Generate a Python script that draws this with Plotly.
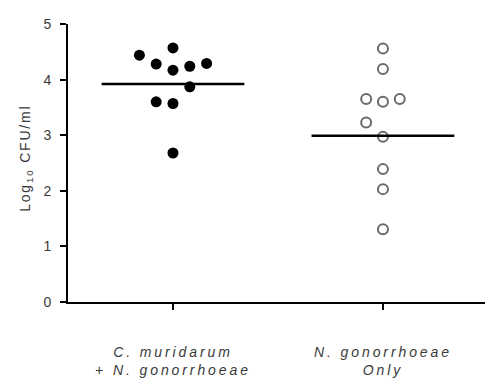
import plotly.graph_objects as go

# ---- data ----
categories = ["C. muridarum<br>+ N. gonorrhoeae", "N. gonorrhoeae<br>Only"]

co_infected = [4.44, 4.57, 4.28, 4.17, 4.24, 4.29, 3.87, 3.60, 3.57, 2.68]
co_jitter = [-0.16, 0.0, -0.08, 0.0, 0.08, 0.16, 0.08, -0.08, 0.0, 0.0]

ng_only = [4.56, 4.19, 3.65, 3.60, 3.65, 3.23, 2.97, 2.39, 2.03, 1.31]
ng_jitter = [0.0, 0.0, -0.08, 0.0, 0.08, -0.08, 0.0, 0.0, 0.0, 0.0]

group_means = [3.92, 2.99]

y_ticks = [0, 1, 2, 3, 4, 5]
y_title = "Log<sub>10</sub> CFU/ml"

# ---- figure ----
half_w = 0.34
text_col = "#3a3a3a"
font_fam = "Liberation Sans, Arial, sans-serif"

fig = go.Figure()

fig.add_trace(go.Scatter(
    x=[0 + j for j in co_jitter], y=co_infected, mode="markers",
    marker=dict(color="black", size=11, line=dict(width=0)),
    showlegend=False, hoverinfo="y"))

fig.add_trace(go.Scatter(
    x=[1 + j for j in ng_jitter], y=ng_only, mode="markers",
    marker=dict(color="white", size=10, line=dict(color="#6a6a6a", width=2)),
    showlegend=False, hoverinfo="y"))

for i, m in enumerate(group_means):
    fig.add_trace(go.Scatter(
        x=[i - half_w, i + half_w], y=[m, m], mode="lines",
        line=dict(color="black", width=2.5),
        showlegend=False, hoverinfo="skip"))

fig.update_layout(
    width=485, height=386,
    margin=dict(l=68, r=0, t=24, b=84),
    paper_bgcolor="white", plot_bgcolor="white",
    font=dict(family=font_fam, size=14, color=text_col),
    xaxis=dict(
        range=[-0.5, 1.486], tickmode="array", tickvals=[0, 1],
        ticktext=categories, showgrid=False, zeroline=False,
        showline=True, linecolor="black", linewidth=2,
        ticks="outside", ticklen=6, tickwidth=2, tickcolor="black",
        tickfont=dict(family=font_fam, size=14, color=text_col, style="italic"),
        ticklabelstandoff=30, fixedrange=True),
    yaxis=dict(
        range=[0, 5], tickmode="array", tickvals=y_ticks,
        showgrid=False, zeroline=False,
        showline=True, linecolor="black", linewidth=2,
        ticks="outside", ticklen=6, tickwidth=2, tickcolor="black",
        tickfont=dict(family=font_fam, size=14, color=text_col),
        ticklabelstandoff=6, fixedrange=True),
    annotations=[dict(
        text=y_title, xref="paper", yref="paper",
        x=-0.1007, y=0.518, xanchor="center", yanchor="middle",
        textangle=-90, showarrow=False,
        font=dict(family=font_fam, size=14, color=text_col))],
)

css = (".xtick text{letter-spacing:2.9px;}"
       ".annotation-text{letter-spacing:1.8px;}")
post = ("var s=document.createElement('style');s.textContent='" + css +
        "';document.head.appendChild(s);")

fig.write_html("out.html", post_script=post)
